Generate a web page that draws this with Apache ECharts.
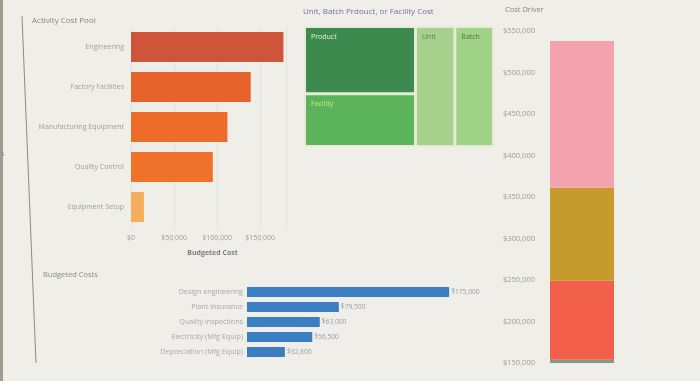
<!DOCTYPE html>
<html>
<head>
<meta charset="utf-8">
<script src="https://cdn.jsdelivr.net/npm/echarts@6/dist/echarts.min.js"></script>
<style>
html,body{margin:0;padding:0;background:#f0eee8;}
#c{width:700px;height:381px;}
</style>
</head>
<body>
<div id="c"></div>
<script>
// Activity cost pools (budgeted cost)
const pools = ['Engineering', 'Factory Facilities', 'Manufacturing Equipment', 'Quality Control', 'Equipment Setup'];
const poolValues = [177000, 139000, 112000, 95000, 15000];
const poolColors = ['#cf553a', '#e6622b', '#ef6b29', '#f07129', '#f5ad5c'];

// Cost hierarchy treemap
const levels = ['Product', 'Facility', 'Unit', 'Batch'];
const levelValues = [177000, 139000, 112000, 110000];

// Cost driver stack (bottom to top)
const driverPools = ['Factory Facilities', 'Equipment Setup', 'Quality Control', 'Manufacturing Equipment', 'Engineering'];
const driverValues = [139000, 15000, 95000, 112000, 177000];
const driverTicks = [150000, 550000, 50000]; // min, max, step

// Budgeted costs
const costItems = ['Design engineering', 'Plant insurance', 'Quality inspections', 'Electricity (Mfg Equip)', 'Depreciation (Mfg Equip)'];
const costValues = [175000, 79500, 63000, 56500, 32800];

const FONT = '"Open Sans", "Noto Sans", sans-serif';
const money = v => '$' + Number(v).toLocaleString('en-US');

const levelStyles = {
  Product: {color: '#3d8a4e', label: '#e6efe0'},
  Facility: {color: '#5bb45a', label: '#c6e68e'},
  Unit: {color: '#a7d08c', label: '#667a5c'},
  Batch: {color: '#a0d388', label: '#5b6c4e'}
};
const driverColors = {
  'Factory Facilities': '#86b4cc',
  'Equipment Setup': '#7c9c84',
  'Quality Control': '#f2604b',
  'Manufacturing Equipment': '#c59b2d',
  'Engineering': '#f3a3ad'
};

const chart = echarts.init(document.getElementById('c'), null, {renderer: 'canvas'});

const series = [];
series.push({
  type: 'bar', xAxisIndex: 0, yAxisIndex: 0, barWidth: 30,
  data: poolValues.map((v, i) => ({value: v, itemStyle: {color: poolColors[i]}})),
  silent: true
});
series.push({
  type: 'bar', xAxisIndex: 1, yAxisIndex: 1, barWidth: 10,
  data: costValues,
  itemStyle: {color: '#3b7ec2'},
  label: {show: true, position: 'right', distance: 2, formatter: p => money(p.value),
    fontFamily: FONT, fontSize: 6.7, color: '#9a9aa4'},
  silent: true
});
driverPools.forEach((name, i) => {
  series.push({
    type: 'bar', name: name, xAxisIndex: 2, yAxisIndex: 2, stack: 'driver', barWidth: 64, clip: true,
    data: [driverValues[i]],
    itemStyle: {color: driverColors[name]},
    silent: true
  });
});
series.push({
  type: 'treemap', left: 304, top: 26, width: 190, height: 121,
  roam: false, nodeClick: false, breadcrumb: {show: false}, silent: true,
  itemStyle: {borderColor: '#e4ecd8', borderWidth: 1, gapWidth: 1},
  label: {show: true, position: 'insideTopLeft', fontFamily: FONT, fontSize: 7, distance: 3, padding: [2, 0, 0, 2]},
  data: levels.map((l, i) => ({
    name: l, value: levelValues[i],
    itemStyle: {color: levelStyles[l].color},
    label: {color: levelStyles[l].label}
  }))
});

chart.setOption({
  backgroundColor: '#f0eee8',
  animation: false,
  grid: [
    {left: 131, top: 27, width: 155, height: 200},
    {left: 247, top: 284.5, width: 231, height: 75},
    {left: 548, top: 31, width: 68, bottom: 18}
  ],
  xAxis: [
    {gridIndex: 0, type: 'value', min: 0, max: 180000, interval: 50000,
      axisLine: {show: false}, axisTick: {show: false},
      splitLine: {show: true, lineStyle: {color: '#e3e0da', width: 1}},
      axisLabel: {formatter: money, fontFamily: FONT, fontSize: 7, color: '#9c9c98', margin: 7},
      name: 'Budgeted Cost', nameLocation: 'middle', nameGap: 22,
      nameTextStyle: {fontFamily: FONT, fontSize: 7, color: '#7c7c80', fontWeight: 'bold', padding: [0, 0, 0, 8]}},
    {gridIndex: 1, type: 'value', min: 0, max: 200000, show: false},
    {gridIndex: 2, type: 'category', data: ['Total'], show: false}
  ],
  yAxis: [
    {gridIndex: 0, type: 'category', data: pools, inverse: true,
      axisLine: {show: false}, axisTick: {show: false},
      axisLabel: {fontFamily: FONT, fontSize: 7, color: '#a09ca2', margin: 7}},
    {gridIndex: 1, type: 'category', data: costItems, inverse: true,
      axisLine: {show: false}, axisTick: {show: false},
      axisLabel: {fontFamily: FONT, fontSize: 7.2, color: '#a8a8b2', margin: 4}},
    {gridIndex: 2, type: 'value', min: driverTicks[0], max: driverTicks[1], interval: driverTicks[2],
      axisLine: {show: false}, axisTick: {show: false}, splitLine: {show: false},
      axisLabel: {formatter: money, fontFamily: FONT, fontSize: 7.5, color: '#9c9c8e', align: 'left', margin: 45}}
  ],
  graphic: [
    {type: 'rect', shape: {x: 0, y: 0, width: 3, height: 381}, style: {fill: '#a09c94'}, silent: true},
    {type: 'line', shape: {x1: 22, y1: 16, x2: 36, y2: 363}, style: {stroke: '#8e8a84', lineWidth: 1}, silent: true},
    {type: 'text', left: 1, top: 150, style: {text: 's', font: '7px ' + FONT, fill: '#8a8a8a'}, silent: true},
    {type: 'text', left: 32, top: 17, style: {text: 'Activity Cost Pool', font: '8px ' + FONT, fill: '#8c8088'}, silent: true},
    {type: 'text', left: 303, top: 8, style: {text: 'Unit, Batch Prdouct, or Facility Cost', font: '8px ' + FONT, fill: '#72729a'}, silent: true},
    {type: 'text', left: 505, top: 6, style: {text: 'Cost Driver', font: '7.5px ' + FONT, fill: '#8c7e7c'}, silent: true},
    {type: 'text', left: 43, top: 271, style: {text: 'Budgeted Costs', font: '7.5px ' + FONT, fill: '#8c8c84'}, silent: true}
  ],
  series: series
});
</script>
</body>
</html>
